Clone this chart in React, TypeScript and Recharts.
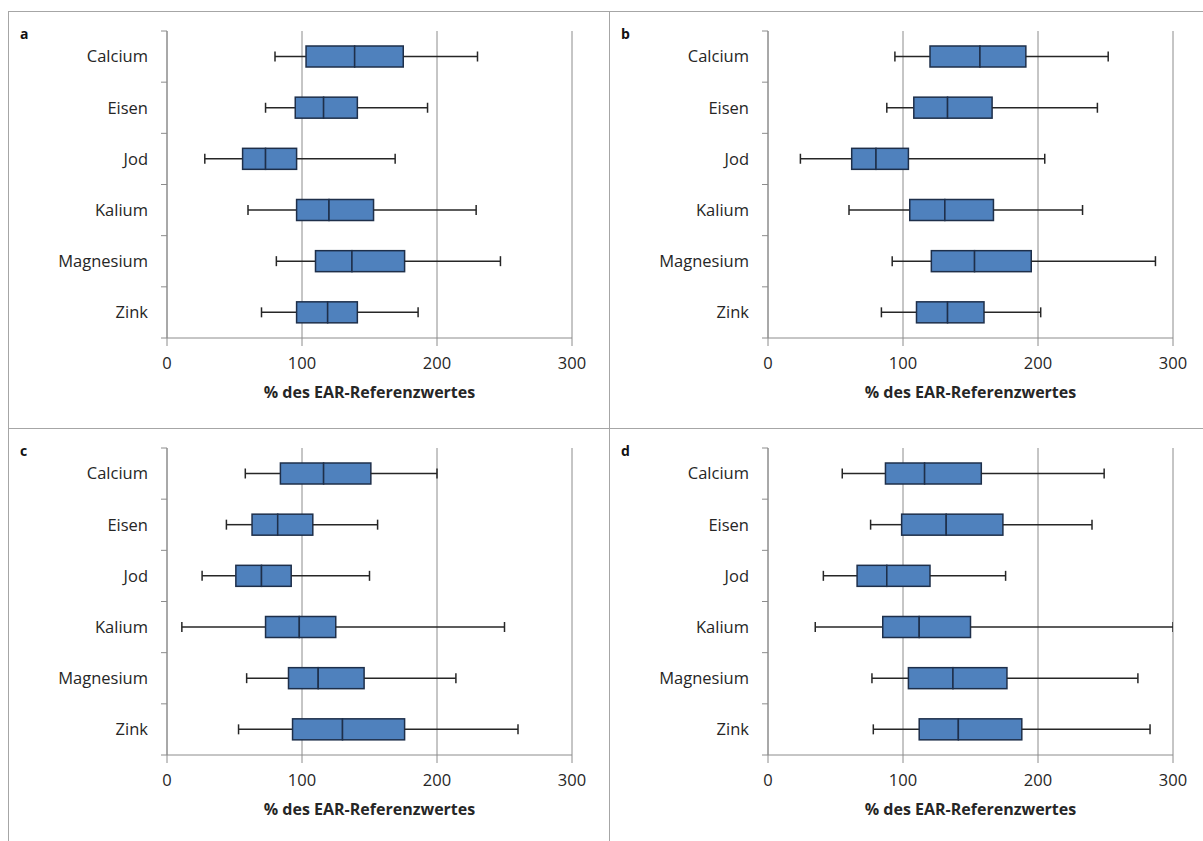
import React from "react";
import { BarChart, Bar, XAxis, YAxis, CartesianGrid, Label } from "recharts";

// Kategorien (von oben nach unten)
const categories = ["Calcium", "Eisen", "Jod", "Kalium", "Magnesium", "Zink"];

// je Kategorie: [Minimum, Q1, Median, Q3, Maximum] in % des EAR-Referenzwertes
const statsA = [
  [80, 103, 139, 175, 230],
  [73, 95, 116, 141, 193],
  [28, 56, 73, 96, 169],
  [60, 96, 120, 153, 229],
  [81, 110, 137, 176, 247],
  [70, 96, 119, 141, 186],
];
const statsB = [
  [94, 120, 157, 191, 252],
  [88, 108, 133, 166, 244],
  [24, 62, 80, 104, 205],
  [60, 105, 131, 167, 233],
  [92, 121, 153, 195, 287],
  [84, 110, 133, 160, 202],
];
const statsC = [
  [58, 84, 116, 151, 200],
  [44, 63, 82, 108, 156],
  [26, 51, 70, 92, 150],
  [11, 73, 98, 125, 250],
  [59, 90, 112, 146, 214],
  [53, 93, 130, 176, 260],
];
const statsD = [
  [55, 87, 116, 158, 249],
  [76, 99, 132, 174, 240],
  [41, 66, 88, 120, 176],
  [35, 85, 112, 150, 300],
  [77, 104, 137, 177, 274],
  [78, 112, 141, 188, 283],
];

const xTicks = [0, 100, 200, 300];
const axisTitle = "% des EAR-Referenzwertes";

const FONT = "'Open Sans', sans-serif";
const GRID = "#8c8c8c";
const BORDER = "#a6a6a6";
const BOX_FILL = "#4f81bd";
const BOX_STROKE = "#1e2f4a";
const INK = "#262626";

const CW = 590, CH = 405;
const M = { top: 19, right: 27, bottom: 39, left: 0 };
const Y_W = 158, X_H = 40;
const BAND = (CH - M.top - M.bottom - X_H) / categories.length;
const TICK_GAP = 19; // tickSize 6 + tickMargin 13

function CatTick(props: any) {
  const { x, y, payload } = props;
  const ax = x + TICK_GAP;
  const last = payload.value === categories[categories.length - 1];
  return (
    <g>
      <line x1={ax - 6} x2={ax} y1={y - BAND / 2} y2={y - BAND / 2} stroke={GRID} />
      {last && <line x1={ax - 6} x2={ax} y1={y + BAND / 2} y2={y + BAND / 2} stroke={GRID} />}
      <text x={x} y={y} dy="0.35em" textAnchor="end" fill={INK} fontSize={16.5} fontFamily={FONT}>
        {payload.value}
      </text>
    </g>
  );
}

const LowerWhisker = (p: any) => {
  const cy = p.y + p.height / 2;
  return (
    <g>
      <line x1={p.x} x2={p.x + p.width} y1={cy} y2={cy} stroke={INK} strokeWidth={1.5} />
      <line x1={p.x} x2={p.x} y1={cy - 5} y2={cy + 5} stroke={INK} strokeWidth={1.5} />
    </g>
  );
};

const UpperWhisker = (p: any) => {
  const cy = p.y + p.height / 2;
  const ex = p.x + p.width;
  return (
    <g>
      <line x1={p.x} x2={ex} y1={cy} y2={cy} stroke={INK} strokeWidth={1.5} />
      <line x1={ex} x2={ex} y1={cy - 5} y2={cy + 5} stroke={INK} strokeWidth={1.5} />
    </g>
  );
};

const BoxHalf = (p: any) => (
  <rect x={p.x} y={p.y} width={p.width} height={p.height} fill={BOX_FILL} stroke={BOX_STROKE} strokeWidth={1.5} />
);

function Panel({ letter, stats, style }: { letter: string; stats: number[][]; style: React.CSSProperties }) {
  const data = categories.map((name, i) => {
    const [mn, q1, md, q3, mx] = stats[i];
    return { name, base: mn, lw: q1 - mn, b1: md - q1, b2: q3 - md, uw: mx - q3 };
  });
  return (
    <div style={{ position: "absolute", boxSizing: "border-box", borderColor: BORDER, borderStyle: "solid", borderWidth: 0, ...style }}>
      <div style={{ position: "absolute", left: 11, top: 15, fontFamily: FONT, fontWeight: 700, fontSize: 14, lineHeight: 1, color: "#111" }}>
        {letter}
      </div>
      <BarChart width={CW} height={CH} data={data} layout="vertical" margin={M} barSize={21}>
        <CartesianGrid horizontal={false} stroke={GRID} />
        <XAxis type="number" domain={[0, 300]} ticks={xTicks} allowDataOverflow stroke={GRID}
          tickSize={8} tickMargin={11} height={X_H}
          tick={{ fill: INK, fontSize: 16.5, fontFamily: FONT }}>
          <Label value={axisTitle} position="bottom" offset={9}
            style={{ fill: INK, fontSize: 16, fontWeight: 700, fontFamily: FONT }} />
        </XAxis>
        <YAxis type="category" dataKey="name" width={Y_W} stroke={GRID} tickLine={false}
          tickSize={6} tickMargin={13} tick={<CatTick />} interval={0} />
        <Bar dataKey="base" stackId="s" fill="none" isAnimationActive={false} />
        <Bar dataKey="lw" stackId="s" shape={LowerWhisker} isAnimationActive={false} />
        <Bar dataKey="b1" stackId="s" shape={BoxHalf} isAnimationActive={false} />
        <Bar dataKey="b2" stackId="s" shape={BoxHalf} isAnimationActive={false} />
        <Bar dataKey="uw" stackId="s" shape={UpperWhisker} isAnimationActive={false} />
      </BarChart>
    </div>
  );
}

export default function App() {
  return (
    <div style={{ position: "fixed", left: 0, top: 0, width: 1203, height: 841, overflow: "hidden", background: "#fff" }}>
      <Panel letter="a" stats={statsA}
        style={{ left: 8, top: 11, width: 602, height: 418, borderWidth: 1 }} />
      <Panel letter="b" stats={statsB}
        style={{ left: 610, top: 11, width: 593, height: 418, borderTopWidth: 1, borderBottomWidth: 1 }} />
      <Panel letter="c" stats={statsC}
        style={{ left: 8, top: 429, width: 602, height: 412, borderLeftWidth: 1, borderRightWidth: 1 }} />
      <Panel letter="d" stats={statsD}
        style={{ left: 610, top: 429, width: 593, height: 412 }} />
    </div>
  );
}
